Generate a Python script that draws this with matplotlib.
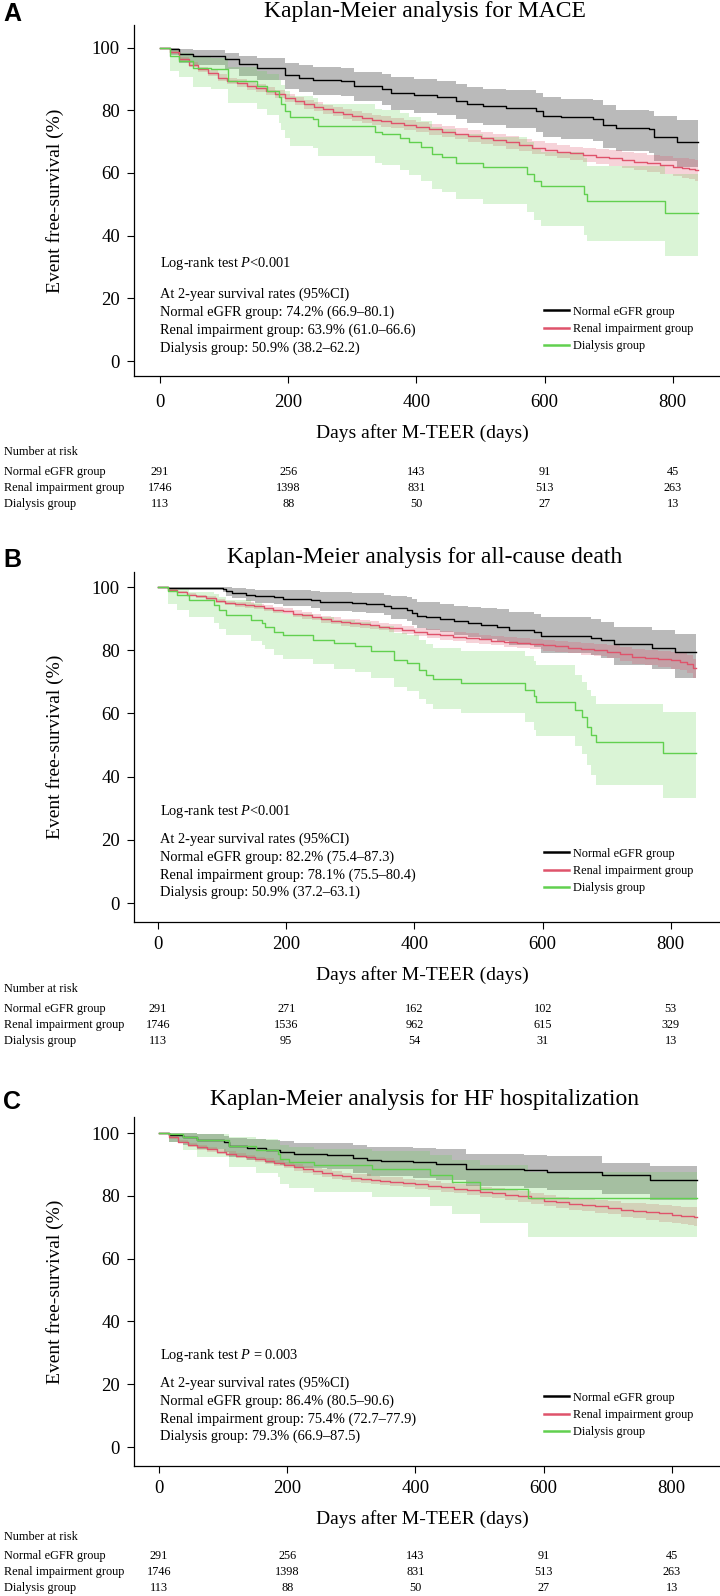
import matplotlib
matplotlib.use("Agg")
import matplotlib.pyplot as plt
from matplotlib.lines import Line2D
from matplotlib.transforms import blended_transform_factory

plt.rcParams['font.family'] = ['Liberation Serif', 'DejaVu Serif']
plt.rcParams['mathtext.fontset'] = 'custom'
plt.rcParams['mathtext.rm'] = 'Liberation Serif'
plt.rcParams['mathtext.it'] = 'Liberation Serif:italic'

# ---------------- data ----------------
groups = ['Normal eGFR group', 'Renal impairment group', 'Dialysis group']
colors = ['black', '#DF536B', '#61D04F']
risk_days = [0, 200, 400, 600, 800]
end_day = 840

# renal impairment group (large n, near smooth curve): shared time grid
renal_days = [0, 15, 30, 45, 60, 75, 90, 105, 120, 135, 150, 165, 180, 195, 210, 225, 240,
              255, 270, 285, 300, 315, 330, 345, 360, 380, 400, 420, 440, 460, 480, 500, 520,
              540, 560, 580, 600, 620, 640, 660, 680, 700, 720, 740, 760, 780, 800, 815, 825, 835]

# --- A: MACE
mace_normal_t = [0, 16, 30, 52, 102, 124, 152, 195, 217, 238, 282, 303, 346, 360, 396, 432, 461,
                 479, 504, 540, 587, 597, 626, 676, 691, 712, 763, 770, 806]
mace_normal_s = [100, 99.5, 97.9, 97.3, 96.3, 94.7, 93.6, 91.3, 90.4, 89.6, 89.4, 87.8, 86.7, 85.6,
                 84.8, 84.1, 83.0, 82.0, 81.4, 80.7, 79.8, 78.2, 77.7, 77.2, 75.4, 74.3, 74.0, 71.5, 69.7]
mace_normal_lo = [100, 97.6, 95.1, 94.3, 93.1, 91.0, 89.7, 86.9, 85.8, 84.8, 84.6, 82.8, 81.5, 80.2,
                  79.2, 78.4, 77.1, 75.9, 75.2, 74.3, 73.2, 71.3, 70.7, 70.1, 68.0, 66.9, 66.4, 63.8, 62.0]
mace_normal_hi = [100, 100, 99.4, 99.1, 98.3, 97.3, 96.6, 95.0, 94.3, 93.7, 93.5, 92.3, 91.4, 90.5,
                  89.8, 89.2, 88.3, 87.5, 86.9, 86.3, 85.5, 84.1, 83.6, 83.2, 81.7, 80.1, 79.8, 78.0, 77.0]
mace_renal_s = [100, 98.5, 96.3, 94.5, 93.0, 91.8, 90.4, 89.3, 88.6, 87.8, 87.0, 86.0, 85.1, 84.0,
                82.9, 81.9, 81.1, 80.3, 79.5, 78.8, 78.2, 77.6, 77.0, 76.4, 75.9, 75.3, 74.6, 73.9,
                73.2, 72.5, 71.8, 71.1, 70.4, 69.7, 68.9, 68.1, 67.4, 66.8, 66.2, 65.7, 65.2, 64.7,
                64.1, 63.6, 63.0, 62.4, 61.9, 61.5, 61.1, 60.8]
mace_renal_w = [0, 0.5, 0.6, 0.8, 0.9, 1.0, 1.1, 1.1, 1.2, 1.2, 1.2, 1.3, 1.3, 1.3, 1.4, 1.4, 1.4,
                1.5, 1.5, 1.5, 1.5, 1.6, 1.6, 1.6, 1.6, 1.7, 1.7, 1.7, 1.8, 1.8, 1.8, 1.9, 1.9, 2.0,
                2.0, 2.1, 2.1, 2.2, 2.2, 2.3, 2.4, 2.5, 2.6, 2.7, 2.8, 2.9, 3.0, 3.1, 3.2, 3.3]
mace_dial_t = [0, 16, 30, 52, 80, 106, 152, 167, 185, 188, 195, 203, 238, 246, 335, 346, 375, 389,
               407, 425, 440, 461, 504, 572, 583, 594, 661, 666, 788]
mace_dial_s = [100, 97.3, 95.8, 93.6, 93.1, 89.4, 87.8, 86.2, 84.1, 82.0, 79.8, 77.7, 77.2, 75.0,
               72.9, 72.4, 71.1, 69.7, 68.2, 66.0, 65.0, 63.2, 61.8, 59.7, 57.5, 55.9, 53.3, 51.0, 47.2]
mace_dial_lo = [100, 92.5, 90.5, 87.5, 86.8, 82.2, 80.3, 78.5, 76.0, 73.6, 71.0, 68.6, 68.0, 65.5,
                63.0, 62.4, 60.9, 59.3, 57.5, 55.0, 53.8, 51.7, 50.0, 47.5, 45.0, 43.0, 40.3, 38.2, 33.6]
mace_dial_hi = [100, 99.3, 98.3, 96.9, 96.5, 93.8, 92.6, 91.4, 89.7, 88.0, 86.2, 84.4, 84.0, 82.1,
                80.4, 80.0, 79.0, 77.9, 76.6, 74.8, 74.0, 72.5, 71.4, 69.8, 68.0, 66.7, 64.7, 62.2, 59.5]

# --- B: all-cause death
death_normal_t = [0, 16, 102, 106, 116, 138, 152, 181, 195, 238, 253, 303, 325, 353, 364, 389, 396,
                  404, 418, 440, 461, 483, 504, 529, 547, 587, 597, 676, 691, 712, 770, 806]
death_normal_s = [100, 99.7, 99.5, 98.6, 98.1, 97.5, 97.0, 96.8, 96.3, 95.8, 95.2, 94.9, 94.7, 94.1,
                  93.3, 92.8, 91.8, 90.9, 90.5, 89.9, 89.1, 88.6, 88.1, 87.5, 86.5, 85.9, 84.4, 83.8,
                  83.1, 82.0, 80.7, 79.3]
death_normal_lo = [100, 99.0, 98.5, 97.0, 96.4, 95.6, 94.9, 94.6, 94.0, 93.3, 92.5, 92.1, 91.8, 91.0,
                   90.0, 89.3, 88.1, 87.0, 86.5, 85.8, 84.8, 84.2, 83.6, 82.9, 81.7, 81.0, 79.2, 78.5,
                   77.6, 75.4, 74.0, 71.3]
death_normal_hi = [100, 100, 100, 99.9, 99.7, 99.4, 99.2, 99.1, 98.9, 98.6, 98.3, 98.1, 98.0, 97.6,
                   97.1, 96.8, 96.1, 95.4, 95.1, 94.7, 94.1, 93.7, 93.3, 92.9, 92.1, 91.6, 90.4, 89.9,
                   89.0, 87.3, 86.4, 85.2]
death_renal_s = [100, 99.2, 98.4, 97.6, 97.0, 96.4, 95.6, 95.0, 94.6, 94.3, 93.9, 93.4, 92.8, 92.3,
                 91.6, 91.0, 90.4, 89.8, 89.3, 88.9, 88.6, 88.3, 88.0, 87.5, 87.0, 86.4, 85.8, 85.2,
                 84.7, 84.3, 83.9, 83.4, 83.0, 82.6, 82.2, 81.9, 81.6, 81.2, 80.8, 80.4, 80.0, 79.5,
                 78.8, 78.0, 77.6, 77.2, 76.8, 76.3, 75.6, 74.3]
death_renal_w = [0, 0.3, 0.4, 0.5, 0.6, 0.6, 0.7, 0.7, 0.8, 0.8, 0.8, 0.9, 0.9, 0.9, 1.0, 1.0, 1.0,
                 1.1, 1.1, 1.1, 1.2, 1.2, 1.2, 1.2, 1.3, 1.3, 1.3, 1.4, 1.4, 1.4, 1.5, 1.5, 1.5, 1.6,
                 1.6, 1.6, 1.7, 1.7, 1.8, 1.8, 1.9, 2.0, 2.1, 2.3, 2.4, 2.5, 2.6, 2.7, 2.8, 3.0]
death_dial_t = [0, 16, 30, 48, 88, 95, 106, 145, 163, 167, 181, 195, 242, 274, 307, 332, 368, 389,
                407, 418, 429, 472, 572, 587, 590, 651, 662, 669, 676, 684, 788]
death_dial_s = [100, 98.6, 97.5, 95.8, 94.4, 92.8, 91.2, 89.6, 88.6, 87.5, 85.9, 84.9, 83.3, 82.2,
                81.2, 79.6, 77.0, 75.9, 73.8, 72.2, 70.8, 69.6, 67.4, 65.5, 63.7, 61.0, 58.9, 55.8,
                53.2, 50.8, 47.4]
death_dial_lo = [100, 94.5, 92.8, 90.5, 88.7, 86.7, 84.8, 82.8, 81.6, 80.3, 78.5, 77.3, 75.5, 74.2,
                 73.0, 71.2, 68.3, 67.0, 64.7, 62.9, 61.3, 60.0, 57.2, 54.9, 52.8, 49.6, 47.0, 43.6,
                 40.4, 37.2, 33.1]
death_dial_hi = [100, 99.8, 99.4, 98.5, 97.7, 96.8, 95.8, 94.8, 94.1, 93.4, 92.3, 91.6, 90.4, 89.6,
                 88.8, 87.6, 85.6, 84.8, 83.1, 81.9, 80.8, 79.9, 78.2, 76.7, 75.3, 72.0, 70.0, 67.5,
                 65.5, 63.1, 60.6]

# --- C: HF hospitalization
hf_normal_t = [0, 16, 37, 59, 102, 109, 138, 167, 188, 210, 262, 303, 325, 346, 396, 432, 479, 569,
               605, 691, 766]
hf_normal_s = [100, 99.3, 98.7, 97.9, 97.1, 95.8, 95.1, 94.5, 94.0, 93.2, 92.9, 92.1, 91.3, 91.1,
               90.8, 90.2, 88.6, 88.1, 87.6, 86.5, 84.9]
hf_normal_lo = [100, 97.2, 96.2, 95.0, 93.9, 92.2, 91.3, 90.5, 89.9, 88.9, 88.5, 87.4, 86.4, 86.2,
                85.6, 84.9, 83.0, 82.4, 81.8, 80.5, 78.6]
hf_normal_hi = [100, 100, 99.9, 99.6, 99.2, 98.5, 98.1, 97.7, 97.4, 96.9, 96.7, 96.1, 95.6, 95.4,
                95.2, 94.8, 93.4, 93.0, 92.6, 90.6, 89.5]
hf_renal_s = [100, 98.6, 97.2, 96.2, 95.4, 94.8, 94.1, 93.4, 92.8, 92.2, 91.6, 91.0, 90.4, 89.8,
              89.1, 88.4, 87.8, 87.2, 86.7, 86.2, 85.8, 85.5, 85.1, 84.8, 84.5, 84.1, 83.7, 83.2,
              82.7, 82.3, 81.8, 81.3, 80.8, 80.3, 79.8, 79.2, 78.5, 77.9, 77.4, 77.0, 76.6, 76.2,
              75.6, 75.2, 74.8, 74.4, 74.0, 73.7, 73.5, 73.3]
hf_renal_w = [0, 0.4, 0.5, 0.6, 0.7, 0.7, 0.8, 0.8, 0.9, 0.9, 0.9, 1.0, 1.0, 1.0, 1.1, 1.1, 1.1,
              1.2, 1.2, 1.2, 1.3, 1.3, 1.3, 1.3, 1.4, 1.4, 1.4, 1.5, 1.5, 1.5, 1.6, 1.6, 1.6, 1.7,
              1.7, 1.7, 1.8, 1.8, 1.9, 1.9, 2.0, 2.1, 2.2, 2.4, 2.5, 2.6, 2.7, 2.8, 2.9, 3.0]
hf_dial_t = [0, 16, 37, 59, 109, 152, 185, 188, 203, 242, 332, 422, 457, 501, 576]
hf_dial_s = [100, 99.6, 98.7, 97.7, 95.8, 94.5, 93.4, 91.8, 90.8, 89.7, 88.6, 86.5, 84.4, 82.2, 79.4]
hf_dial_lo = [100, 97.0, 94.5, 92.5, 89.2, 87.4, 85.9, 83.8, 82.5, 81.1, 79.6, 76.9, 74.2, 71.4, 66.9]
hf_dial_hi = [100, 100, 99.9, 99.6, 98.7, 98.0, 97.3, 96.3, 95.7, 95.0, 94.3, 92.9, 91.5, 89.9, 87.5]

titles = ['Kaplan-Meier analysis for MACE',
          'Kaplan-Meier analysis for all-cause death',
          'Kaplan-Meier analysis for HF hospitalization']
logrank = ['Log-rank test $\\mathit{P}$<0.001',
           'Log-rank test $\\mathit{P}$<0.001',
           'Log-rank test $\\mathit{P}$ = 0.003']
rates = [['74.2% (66.9\u201380.1)', '63.9% (61.0\u201366.6)', '50.9% (38.2\u201362.2)'],
         ['82.2% (75.4\u201387.3)', '78.1% (75.5\u201380.4)', '50.9% (37.2\u201363.1)'],
         ['86.4% (80.5\u201390.6)', '75.4% (72.7\u201377.9)', '79.3% (66.9\u201387.5)']]
at_risk = [[[291, 256, 143, 91, 45], [1746, 1398, 831, 513, 263], [113, 88, 50, 27, 13]],
           [[291, 271, 162, 102, 53], [1746, 1536, 962, 615, 329], [113, 95, 54, 31, 13]],
           [[291, 256, 143, 91, 45], [1746, 1398, 831, 513, 263], [113, 88, 50, 27, 13]]]

curves = [
    [(mace_normal_t, mace_normal_s, mace_normal_lo, mace_normal_hi),
     (renal_days, mace_renal_s, mace_renal_w),
     (mace_dial_t, mace_dial_s, mace_dial_lo, mace_dial_hi)],
    [(death_normal_t, death_normal_s, death_normal_lo, death_normal_hi),
     (renal_days, death_renal_s, death_renal_w),
     (death_dial_t, death_dial_s, death_dial_lo, death_dial_hi)],
    [(hf_normal_t, hf_normal_s, hf_normal_lo, hf_normal_hi),
     (renal_days, hf_renal_s, hf_renal_w),
     (hf_dial_t, hf_dial_s, hf_dial_lo, hf_dial_hi)],
]

# ---------------- layout (pixels in a 720x1596 canvas) ----------------
W, H = 720, 1596
# top spine, y of 100, y of 0, bottom spine, x of day 0, text rows
panels = [dict(top=25, y100=47.5, y0=361, bot=376, x0=160, letter='A', ttl=12, xl=433, xt=403,
               nar=452, rows=[472, 488, 504], txt=[97, 67, 49, 31, 13]),
          dict(top=572, y100=587, y0=903, bot=922, x0=158, letter='B', ttl=558, xl=975, xt=945,
               nar=989, rows=[1009, 1025, 1041], txt=[92, 64, 46, 28, 10.5]),
          dict(top=1117, y100=1133, y0=1447, bot=1466, x0=159, letter='C', ttl=1100, xl=1519, xt=1489,
               nar=1537, rows=[1556, 1572, 1588], txt=[92, 64, 46, 28, 10.5])]
left_px = 134
ppd = 0.641  # px per day


def fx(px):
    return px / W


def fy(py):
    return 1 - py / H


fig = plt.figure(figsize=(7.2, 15.96), dpi=100)

for k, p in enumerate(panels):
    ax = fig.add_axes([fx(left_px), fy(p['bot']), fx(W - left_px), (p['bot'] - p['top']) / H])
    ppu = (p['y0'] - p['y100']) / 100
    ax.set_ylim(-(p['bot'] - p['y0']) / ppu, 100 + (p['y100'] - p['top']) / ppu)
    ax.set_xlim((left_px - p['x0']) / ppd, (W - p['x0']) / ppd)

    # confidence bands first, then the curves
    for g, cv in enumerate(curves[k]):
        if len(cv) == 3:
            t, s, w = cv
            lo = [a - b for a, b in zip(s, w)]
            hi = [min(100, a + b) for a, b in zip(s, w)]
        else:
            t, s, lo, hi = cv
        tt = list(t) + [end_day]
        alpha = [0.27, 0.25, 0.23][g]
        ax.fill_between(tt, list(lo) + [lo[-1]], list(hi) + [hi[-1]], step='post',
                        color=colors[g], alpha=alpha, lw=0)
    for g, cv in enumerate(curves[k]):
        t, s = cv[0], cv[1]
        ax.step(list(t) + [end_day], list(s) + [s[-1]], where='post', color=colors[g], lw=1.0)

    ax.spines['top'].set_visible(False)
    ax.spines['right'].set_visible(False)
    for sp in ['left', 'bottom']:
        ax.spines[sp].set_linewidth(0.9)
    ax.set_yticks([0, 20, 40, 60, 80, 100])
    ax.set_xticks(risk_days)
    ax.tick_params(axis='y', length=4.7, width=0.8, pad=5.4, labelsize=13.5)
    ax.tick_params(axis='x', length=4.7, width=0.8, pad=(p['xt'] - p['bot'] - 16) * 0.72, labelsize=13.5)
    ax.set_ylabel('Event free-survival (%)', fontsize=14)
    ax.yaxis.set_label_coords((64 - left_px) / (W - left_px), 0.5)

    fig.text(fx(425), fy(p['ttl']), titles[k], fontsize=17, ha='center', va='center')
    fig.text(fx(12), fy(p['ttl'] + 2), p['letter'], fontsize=18, fontweight='bold',
             family=['Liberation Sans', 'DejaVu Sans'], ha='center', va='center')
    fig.text(fx(422), fy(p['xl']), 'Days after M-TEER (days)', fontsize=14, ha='center', va='center')

    lines = [logrank[k], 'At 2-year survival rates (95%CI)'] + \
            [groups[g] + ': ' + rates[k][g] for g in range(3)]
    for txt, off in zip(lines, p['txt']):
        fig.text(fx(160), fy(p['y0'] - off), txt, fontsize=10.4, ha='left', va='center')

    handles = [Line2D([], [], color=c, lw=1.8) for c in colors]
    ax.legend(handles, groups, loc='upper left', bbox_to_anchor=(fx(544), fy(p['y0'] - 48 - 7.5)),
              bbox_transform=fig.transFigure, frameon=False, fontsize=8.8, handlelength=2.05,
              handletextpad=0.35, labelspacing=0.45, borderpad=0, borderaxespad=0)

    # number at risk table
    tr = blended_transform_factory(ax.transData, fig.transFigure)
    fig.text(fx(4), fy(p['nar']), 'Number at risk', fontsize=8.8, ha='left', va='center')
    for g in range(3):
        fig.text(fx(4), fy(p['rows'][g]), groups[g], fontsize=8.8, ha='left', va='center')
        for d, n in zip(risk_days, at_risk[k][g]):
            ax.text(d, fy(p['rows'][g]), str(n), transform=tr, fontsize=8.8, ha='center',
                    va='center', clip_on=False)

fig.savefig('out.png', dpi=100)
